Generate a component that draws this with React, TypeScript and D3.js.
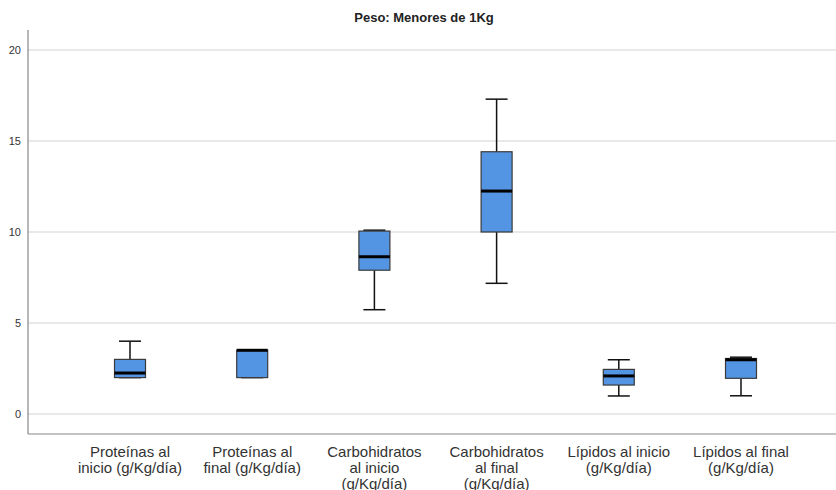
import React, { useEffect, useRef } from "react";
import * as d3 from "d3";

// categories, each label split into its lines
const categories = [
  "Proteínas al inicio",
  "Proteínas al final",
  "Carbohidratos al inicio",
  "Carbohidratos al final",
  "Lípidos al inicio",
  "Lípidos al final",
];
const labelLines = [
  ["Proteínas al", "inicio (g/Kg/día)"],
  ["Proteínas al", "final (g/Kg/día)"],
  ["Carbohidratos", "al inicio", "(g/Kg/día)"],
  ["Carbohidratos", "al final", "(g/Kg/día)"],
  ["Lípidos al inicio", "(g/Kg/día)"],
  ["Lípidos al final", "(g/Kg/día)"],
];

// five-number summaries
const mins = [2, 2, 5.73, 7.18, 0.99, 1.0];
const q1s = [2, 2, 7.9, 10.0, 1.59, 1.96];
const medians = [2.25, 3.5, 8.64, 12.25, 2.09, 2.98];
const q3s = [3, 3.5, 10.05, 14.41, 2.45, 3.05];
const maxs = [4, 3.5, 10.1, 17.3, 2.98, 3.12];

const yTicks = [0, 5, 10, 15, 20];
const title = "Peso: Menores de 1Kg";

const W = 836;
const H = 490;

export default function App() {
  const ref = useRef<SVGSVGElement>(null);

  useEffect(() => {
    const svg = d3.select(ref.current);
    svg.selectAll("*").remove();

    const left = 28, right = W, top = 30, bottom = 434;
    const y = d3.scaleLinear().domain([-1.1, 21.1]).range([bottom, top]);
    const x = d3.scalePoint<string>().domain(categories).range([130, 741]);
    const boxW = 31;
    const capW = 22;

    svg.append("text")
      .attr("x", 424).attr("y", 22)
      .attr("text-anchor", "middle")
      .attr("font-family", "Liberation Sans, Arial, sans-serif")
      .attr("font-weight", "bold")
      .attr("font-size", 13)
      .attr("fill", "#222")
      .text(title);

    // grid lines
    svg.append("g").selectAll("line")
      .data(yTicks).enter().append("line")
      .attr("x1", left).attr("x2", right)
      .attr("y1", d => y(d)).attr("y2", d => y(d))
      .attr("stroke", "#d4d4d4").attr("stroke-width", 1.2);

    // y axis
    const yAxis = svg.append("g")
      .attr("transform", `translate(${left},0)`)
      .call(d3.axisLeft(y).tickValues(yTicks).tickSize(0).tickPadding(7));
    yAxis.select(".domain").remove();
    yAxis.selectAll("text")
      .attr("font-family", "Liberation Sans, Arial, sans-serif")
      .attr("font-size", 11).attr("fill", "#333");

    svg.append("line")
      .attr("x1", left).attr("x2", left).attr("y1", top).attr("y2", bottom)
      .attr("stroke", "#888").attr("stroke-width", 1.2);
    svg.append("line")
      .attr("x1", left).attr("x2", right).attr("y1", bottom).attr("y2", bottom)
      .attr("stroke", "#888").attr("stroke-width", 1.2);

    const boxes = svg.append("g").selectAll("g")
      .data(categories).enter().append("g")
      .attr("transform", d => `translate(${x(d)},0)`);

    // whiskers
    boxes.append("line")
      .attr("x1", 0).attr("x2", 0)
      .attr("y1", (d, i) => y(q3s[i])).attr("y2", (d, i) => y(maxs[i]))
      .attr("stroke", "#111").attr("stroke-width", 1.5);
    boxes.append("line")
      .attr("x1", 0).attr("x2", 0)
      .attr("y1", (d, i) => y(q1s[i])).attr("y2", (d, i) => y(mins[i]))
      .attr("stroke", "#111").attr("stroke-width", 1.5);
    boxes.append("line")
      .attr("x1", -capW / 2).attr("x2", capW / 2)
      .attr("y1", (d, i) => y(maxs[i])).attr("y2", (d, i) => y(maxs[i]))
      .attr("stroke", "#111").attr("stroke-width", 1.5);
    boxes.append("line")
      .attr("x1", -capW / 2).attr("x2", capW / 2)
      .attr("y1", (d, i) => y(mins[i])).attr("y2", (d, i) => y(mins[i]))
      .attr("stroke", "#111").attr("stroke-width", 1.5);

    boxes.append("rect")
      .attr("x", -boxW / 2).attr("width", boxW)
      .attr("y", (d, i) => y(q3s[i]))
      .attr("height", (d, i) => y(q1s[i]) - y(q3s[i]))
      .attr("fill", "#5495e3").attr("stroke", "#3a3a3a").attr("stroke-width", 1.2);

    boxes.append("line")
      .attr("x1", -boxW / 2).attr("x2", boxW / 2)
      .attr("y1", (d, i) => y(medians[i])).attr("y2", (d, i) => y(medians[i]))
      .attr("stroke", "#000").attr("stroke-width", 3);

    // category labels
    const labels = svg.append("g").selectAll("text")
      .data(categories).enter().append("text")
      .attr("x", d => x(d)!)
      .attr("y", 457)
      .attr("text-anchor", "middle")
      .attr("font-family", "Liberation Sans, Arial, sans-serif")
      .attr("font-size", 15)
      .attr("fill", "#333");
    labels.selectAll("tspan")
      .data((d, i) => labelLines[i]).enter().append("tspan")
      .attr("x", function () { return (this.parentNode as SVGTextElement).getAttribute("x"); })
      .attr("dy", (d, j) => (j === 0 ? 0 : 16))
      .text(d => d);
  }, []);

  return (
    <svg ref={ref} width={W} height={H} style={{ position: "absolute", left: 0, top: 0, background: "#fff" }} />
  );
}
